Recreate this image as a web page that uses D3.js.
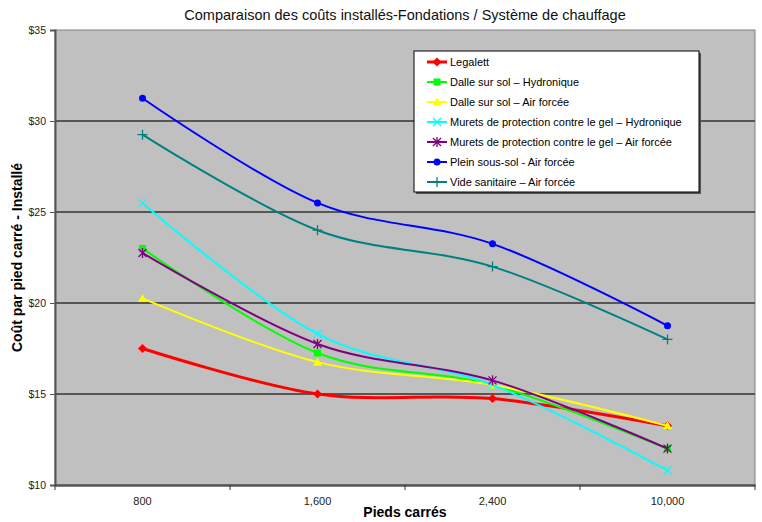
<!DOCTYPE html>
<html>
<head>
<meta charset="utf-8">
<script src="https://cdn.jsdelivr.net/npm/d3@7"></script>
<style>
body { margin: 0; background: #fff; }
text { font-family: "Liberation Sans", Arial, sans-serif; }
</style>
</head>
<body>
<svg id="chart" width="762" height="522"></svg>
<script>
var categories = ["800", "1,600", "2,400", "10,000"];
var yTicks = [10, 15, 20, 25, 30, 35];

var legalett = [17.5, 15.0, 14.75, 13.25];
var dalleHydro = [23.0, 17.25, 15.5, 12.0];
var dalleAir = [20.25, 16.75, 15.5, 13.25];
var muretsHydro = [25.5, 18.3, 15.5, 10.8];
var muretsAir = [22.75, 17.75, 15.75, 12.0];
var pleinSousSol = [31.25, 25.5, 23.25, 18.75];
var videSanitaire = [29.25, 24.0, 22.0, 18.0];

var series = [
    {name: "Legalett", values: legalett, color: "#FF0000", marker: "diamond", width: 3},
    {name: "Dalle sur sol \u2013 Hydronique", values: dalleHydro, color: "#00FF00", marker: "square", width: 2},
    {name: "Dalle sur sol \u2013 Air forc\u00e9e", values: dalleAir, color: "#FFFF00", marker: "triangle", width: 2},
    {name: "Murets de protection contre le gel \u2013 Hydronique", values: muretsHydro, color: "#00FFFF", marker: "x", width: 2},
    {name: "Murets de protection contre le gel \u2013 Air forc\u00e9e", values: muretsAir, color: "#800080", marker: "star", width: 2},
    {name: "Plein sous-sol - Air forc\u00e9e", values: pleinSousSol, color: "#0000FF", marker: "circle", width: 2},
    {name: "Vide sanitaire \u2013 Air forc\u00e9e", values: videSanitaire, color: "#008080", marker: "plus", width: 2}
];

var svg = d3.select("#chart");
var plotLeft = 55, plotRight = 755, plotTop = 30, plotBottom = 485;

var x = d3.scaleBand().domain(categories).range([plotLeft, plotRight]);
var y = d3.scaleLinear().domain([10, 35]).range([plotBottom, plotTop]);

// plot area
svg.append("rect").attr("x", plotLeft).attr("y", plotTop)
    .attr("width", plotRight - plotLeft).attr("height", plotBottom - plotTop)
    .attr("fill", "#C0C0C0").attr("stroke", "#808080").attr("stroke-width", 1);

// gridlines
svg.append("g").selectAll("line").data(yTicks.slice(1, -1)).enter().append("line")
    .attr("x1", plotLeft).attr("x2", plotRight)
    .attr("y1", function(d) { return y(d); }).attr("y2", function(d) { return y(d); })
    .attr("stroke", "#333").attr("stroke-width", 1.5);

// y axis
var yAxis = d3.axisLeft(y).tickValues(yTicks).tickSize(5)
    .tickFormat(function(d) { return "$" + d; });
var gy = svg.append("g").attr("transform", "translate(" + plotLeft + ",0)").call(yAxis);
gy.select(".domain").attr("stroke", "#555").attr("stroke-width", 2);
gy.selectAll(".tick line").attr("stroke", "#555");
gy.selectAll("text").attr("font-size", 10.5).attr("fill", "#222").attr("dx", -1);

// x axis
var xAxis = d3.axisBottom(x).tickSize(0).tickPadding(12);
var gx = svg.append("g").attr("transform", "translate(0," + plotBottom + ")").call(xAxis);
gx.select(".domain").attr("stroke", "#555").attr("stroke-width", 2.5);
gx.selectAll("text").attr("font-size", 11).attr("fill", "#222");
gx.selectAll(".sep").data(d3.range(categories.length + 1)).enter().append("line")
    .attr("class", "sep")
    .attr("x1", function(i) { return plotLeft + i * x.step(); })
    .attr("x2", function(i) { return plotLeft + i * x.step(); })
    .attr("y1", 0).attr("y2", 5).attr("stroke", "#333");

// titles
svg.append("text").attr("x", 405).attr("y", 20).attr("text-anchor", "middle")
    .attr("font-size", 14.5).attr("fill", "#111")
    .text("Comparaison des co\u00fbts install\u00e9s-Fondations / Syst\u00e8me de chauffage");
svg.append("text").attr("x", 405).attr("y", 517).attr("text-anchor", "middle")
    .attr("font-size", 14).attr("font-weight", "bold")
    .text("Pieds carr\u00e9s");
svg.append("text").attr("transform", "translate(22," + ((plotTop + plotBottom) / 2) + ") rotate(-90)")
    .attr("text-anchor", "middle").attr("font-size", 14).attr("font-weight", "bold")
    .text("Co\u00fbt par pied carr\u00e9 - Install\u00e9");

function drawMarker(g, type, color, cx, cy) {
    if (type == "diamond") {
        g.append("path").attr("d", "M" + cx + "," + (cy - 4.5) + "L" + (cx + 4.5) + "," + cy + "L" + cx + "," + (cy + 4.5) + "L" + (cx - 4.5) + "," + cy + "Z").attr("fill", color);
    } else if (type == "square") {
        g.append("rect").attr("x", cx - 3.5).attr("y", cy - 3.5).attr("width", 7).attr("height", 7).attr("fill", color);
    } else if (type == "triangle") {
        g.append("path").attr("d", "M" + cx + "," + (cy - 4.5) + "L" + (cx + 4.5) + "," + (cy + 3.5) + "L" + (cx - 4.5) + "," + (cy + 3.5) + "Z").attr("fill", color);
    } else if (type == "circle") {
        g.append("circle").attr("cx", cx).attr("cy", cy).attr("r", 3.5).attr("fill", color);
    } else if (type == "x") {
        g.append("path").attr("d", "M" + (cx - 4) + "," + (cy - 4) + "L" + (cx + 4) + "," + (cy + 4) + "M" + (cx + 4) + "," + (cy - 4) + "L" + (cx - 4) + "," + (cy + 4)).attr("stroke", color).attr("stroke-width", 1.3);
    } else if (type == "star") {
        g.append("path").attr("d", "M" + (cx - 4) + "," + (cy - 4) + "L" + (cx + 4) + "," + (cy + 4) + "M" + (cx + 4) + "," + (cy - 4) + "L" + (cx - 4) + "," + (cy + 4) + "M" + cx + "," + (cy - 5) + "L" + cx + "," + (cy + 5)).attr("stroke", color).attr("stroke-width", 1.3);
    } else if (type == "plus") {
        g.append("path").attr("d", "M" + (cx - 5) + "," + cy + "L" + (cx + 5) + "," + cy + "M" + cx + "," + (cy - 5) + "L" + cx + "," + (cy + 5)).attr("stroke", color).attr("stroke-width", 1.3);
    }
}

var line = d3.line()
    .x(function(d, i) { return x(categories[i]) + x.bandwidth() / 2; })
    .y(function(d) { return y(d); })
    .curve(d3.curveCatmullRom.alpha(0));

series.forEach(function(s) {
    var g = svg.append("g");
    g.append("path").attr("d", line(s.values)).attr("fill", "none")
        .attr("stroke", s.color).attr("stroke-width", s.width);
    s.values.forEach(function(v, i) {
        drawMarker(g, s.marker, s.color, x(categories[i]) + x.bandwidth() / 2, y(v));
    });
});

// legend
var lg = svg.append("g");
lg.append("rect").attr("x", 416).attr("y", 53).attr("width", 285).attr("height", 141).attr("fill", "#555");
lg.append("rect").attr("x", 414).attr("y", 51).attr("width", 285).attr("height", 141)
    .attr("fill", "#fff").attr("stroke", "#000").attr("stroke-width", 1);
series.forEach(function(s, i) {
    var ly = 62 + i * 20;
    var row = lg.append("g");
    row.append("line").attr("x1", 427).attr("x2", 447).attr("y1", ly).attr("y2", ly)
        .attr("stroke", s.color).attr("stroke-width", s.width);
    drawMarker(row, s.marker, s.color, 437, ly);
    row.append("text").attr("x", 450).attr("y", ly + 4).attr("font-size", 11).attr("fill", "#000").text(s.name);
});
</script>
</body>
</html>
